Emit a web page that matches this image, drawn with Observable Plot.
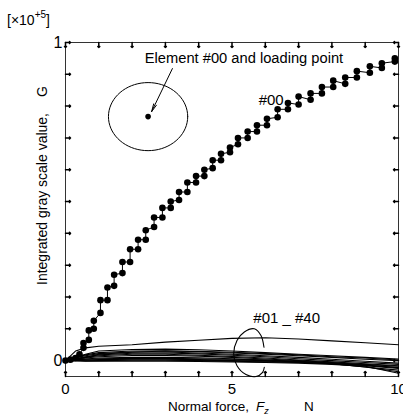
<!DOCTYPE html>
<html><head><meta charset="utf-8">
<script src="https://cdn.jsdelivr.net/npm/d3@7"></script>
<script src="https://cdn.jsdelivr.net/npm/@observablehq/plot@0.6"></script>
<style>body{margin:0;background:#fff;} svg{display:block;}</style>
</head><body><div id="chart"></div>
<script>
// Element #00 (values in units of 1e5)
const x00 = [0,0.15,0.3,0.42,0.54,0.54,0.7,0.7,0.85,0.85,1.05,1.05,1.26,1.26,1.46,1.46,1.71,1.71,1.94,1.94,2.18,2.18,2.41,2.41,2.66,2.66,2.91,2.91,3.16,3.16,3.41,3.41,3.66,3.66,3.92,3.92,4.17,4.17,4.42,4.42,4.67,4.67,4.94,4.94,5.18,5.18,5.47,5.47,5.75,5.75,6.05,6.05,6.37,6.37,6.68,6.68,7.0,7.0,7.36,7.36,7.7,7.7,8.04,8.04,8.4,8.4,8.75,8.75,9.14,9.14,9.5,9.5,9.89,9.89];
const y00 = [0,0.003,0.008,0.02,0.04,0.055,0.065,0.095,0.1,0.125,0.15,0.19,0.19,0.23,0.235,0.27,0.275,0.31,0.31,0.35,0.35,0.38,0.38,0.41,0.42,0.45,0.45,0.48,0.48,0.5,0.505,0.53,0.53,0.56,0.56,0.58,0.58,0.6,0.605,0.63,0.63,0.65,0.655,0.67,0.68,0.7,0.7,0.72,0.72,0.74,0.74,0.76,0.765,0.79,0.79,0.81,0.805,0.83,0.82,0.84,0.84,0.86,0.86,0.88,0.87,0.89,0.89,0.91,0.905,0.925,0.92,0.935,0.94,0.95];

// Elements #01 - #40 (representative traces)
const xLow = [0,0.3,0.6,1,2,3,4,5,6,7,8,9,10];
const s01 = [0,0.03,0.04,0.045,0.05,0.058,0.064,0.07,0.072,0.068,0.062,0.056,0.05];
const s02 = [0,0.01,0.02,0.03,0.035,0.036,0.034,0.03,0.025,0.02,0.015,0.01,0.005];
const s03 = [0,0.01,0.018,0.025,0.03,0.031,0.028,0.024,0.02,0.015,0.01,0.004,0.0];
const s04 = [0,0.008,0.015,0.022,0.027,0.027,0.024,0.02,0.015,0.01,0.004,-0.002,-0.008];
const s05 = [0,0.006,0.012,0.018,0.023,0.024,0.021,0.017,0.012,0.006,0.0,-0.006,-0.012];
const s06 = [0,0.005,0.01,0.015,0.02,0.02,0.017,0.013,0.008,0.002,-0.004,-0.01,-0.016];
const s07 = [0,0.004,0.008,0.012,0.016,0.016,0.014,0.01,0.005,0.0,-0.006,-0.014,-0.022];
const s08 = [0,0.003,0.005,0.008,0.01,0.01,0.009,0.006,0.002,-0.003,-0.01,-0.02,-0.03];
const s09 = [0,0.002,0.004,0.006,0.007,0.007,0.006,0.004,0.002,-0.002,-0.008,-0.016,-0.025];
const s10 = [0,0.001,0.002,0.003,0.004,0.004,0.003,0.002,0.0,-0.004,-0.01,-0.02,-0.035];
const s11 = [0,0.0,0.001,0.002,0.002,0.002,0.001,0.0,-0.002,-0.005,-0.008,-0.012,-0.018];
const s12 = [0,0,-0.001,0,0.001,0.001,0,-0.002,-0.004,-0.006,-0.01,-0.015,-0.022];
const s13 = [0,0,-0.002,-0.002,-0.002,-0.002,-0.003,-0.004,-0.006,-0.008,-0.012,-0.018,-0.04];
const s14 = [0,0.004,0.01,0.02,0.026,0.03,0.029,0.026,0.022,0.018,0.012,0.008,0.002];

const xTicks = [0,1,2,3,4,5,6,7,8,9,10];
const xLabels = [0,5,10];
const yTicks = [0,0.1,0.2,0.3,0.4,0.5,0.6,0.7,0.8,0.9,1];
const yLabels = [0,1];

// annotations (data units)
const loopX = [5.96,5.87,5.67,5.37,5.15,5.05,5.15,5.42,5.72,5.92,5.97];
const loopY = [0.042,0.079,0.1,0.09,0.063,0.021,-0.016,-0.044,-0.05,-0.037,-0.021];
const ellipseCenter = [2.48, 0.767];
const ellipseRadii = [1.19, 0.107];

const main = x00.map((x,i)=>({x, y:y00[i]}));
const lowSeries = [s01,s02,s03,s04,s05,s06,s07,s08,s09,s10,s11,s12,s13,s14];
const low = lowSeries.flatMap((s,k)=>s.map((y,i)=>({x:xLow[i], y, k})));
const loop = loopX.map((x,i)=>({x, y:loopY[i]}));
const ell = d3.range(0,73).map(i=>{const t=i/72*2*Math.PI; return {x: ellipseCenter[0]+ellipseRadii[0]*Math.cos(t), y: ellipseCenter[1]+ellipseRadii[1]*Math.sin(t)};});

const font = "'Liberation Sans', Arial, sans-serif";
const chart = Plot.plot({
  width: 403, height: 415,
  marginLeft: 65, marginRight: 5, marginTop: 42, marginBottom: 39,
  style: {fontFamily: font, background: "#fff", color: "#000"},
  x: {domain: [0,10]},
  y: {domain: [-0.05,1]},
  marks: [
    Plot.frame({stroke: "#333"}),
    Plot.vector(xTicks, {x: d=>d, frameAnchor: "bottom", length: 5, rotate: 0, anchor: "start", stroke: "#000"}),
    Plot.vector(xTicks, {x: d=>d, frameAnchor: "top", length: 5, rotate: 180, anchor: "start", stroke: "#000"}),
    Plot.vector(yTicks, {y: d=>d, frameAnchor: "left", length: 5, rotate: 90, anchor: "start", stroke: "#000"}),
    Plot.vector(yTicks, {y: d=>d, frameAnchor: "right", length: 5, rotate: -90, anchor: "start", stroke: "#000"}),
    Plot.axisX(xLabels, {anchor: "bottom", tickSize: 0, tickPadding: 7, fontSize: 15, label: null, tickFormat: d=>String(d)}),
    Plot.axisY(yLabels, {anchor: "left", tickSize: 0, tickPadding: 3, fontSize: 16, label: null, tickFormat: d=>String(d)}),
    Plot.line(low, {x: "x", y: "y", z: "k", stroke: "#000", strokeWidth: 1.1}),
    Plot.line(main, {x: "x", y: "y", stroke: "#000", strokeWidth: 1}),
    Plot.dot(main, {x: "x", y: "y", r: 3.3, fill: "#000"}),
    Plot.line(ell, {x: "x", y: "y", stroke: "#000", strokeWidth: 1, curve: "linear"}),
    Plot.dot([ellipseCenter], {x: d=>d[0], y: d=>d[1], r: 2.8, fill: "#000"}),
    Plot.arrow([{x1: 3.21, y1: 0.918, x2: 2.56, y2: 0.777}], {x1:"x1", y1:"y1", x2:"x2", y2:"y2", stroke: "#000", strokeWidth: 1, headLength: 12, headAngle: 22, insetEnd: 2}),
    Plot.line(loop, {x: "x", y: "y", stroke: "#000", strokeWidth: 1.1, curve: "catmull-rom", clip: false}),
    Plot.text(["Element #00 and loading point"], {x: 2.38, y: 0.95, text: d=>d, textAnchor: "start", fontSize: 14.7}),
    Plot.text(["#00"], {x: 5.8, y: 0.818, text: d=>d, textAnchor: "start", fontSize: 15}),
    Plot.text(["#01 _ #40"], {x: 5.64, y: 0.132, text: d=>d, textAnchor: "start", fontSize: 15})
  ]
});
document.getElementById("chart").appendChild(chart);
const svg = d3.select(chart);
// multiplier
const m = svg.append("text").attr("x", 7).attr("y", 25).attr("text-anchor", "start").attr("font-size", 14).attr("font-family", font).attr("fill", "#000");
m.append("tspan").text("[×10");
m.append("tspan").attr("font-size", 10).attr("dy", -7).text("+5");
m.append("tspan").attr("dy", 7).text("]");
// x label
const xl = svg.append("text").attr("x", 168).attr("y", 411).attr("text-anchor", "start").attr("font-size", 13.5).attr("font-family", font).attr("fill", "#000");
xl.append("tspan").text("Normal force,");
xl.append("tspan").attr("x", 256).attr("font-style", "italic").text("F");
xl.append("tspan").attr("font-style", "italic").attr("font-size", 9).attr("dy", 3).text("z");
xl.append("tspan").attr("x", 304).attr("dy", -3).text("N");
// y label
const yl = svg.append("text").attr("transform", "translate(47,285) rotate(-90)").attr("text-anchor", "start").attr("font-size", 14).attr("font-family", font).attr("fill", "#000");
yl.append("tspan").text("Integrated gray scale value,");
yl.append("tspan").attr("x", 188).text("G");
</script></body></html>
